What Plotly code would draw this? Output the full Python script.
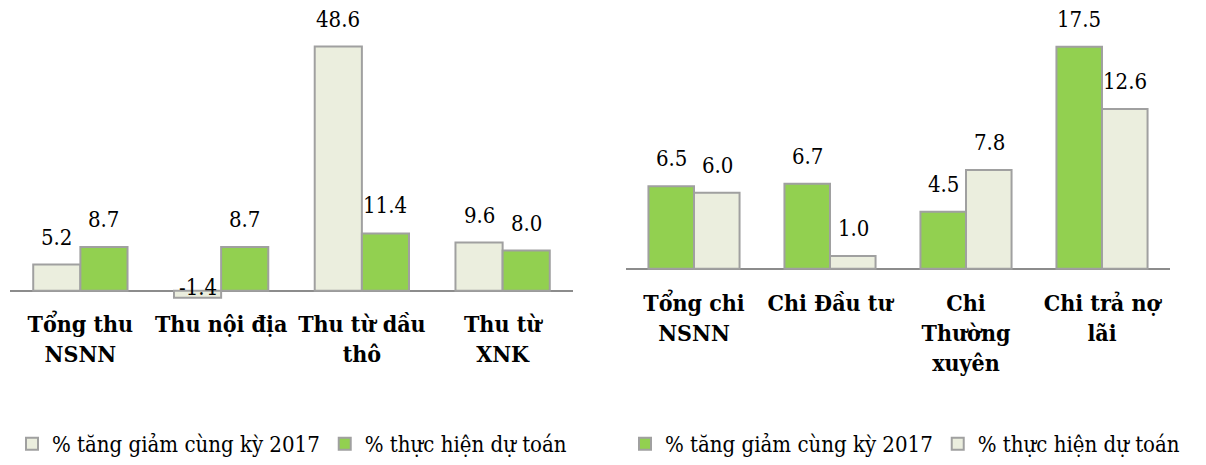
import plotly.graph_objects as go

# ---- data ----
thu_categories = ["Tổng thu<br>NSNN", "Thu nội địa", "Thu từ dầu<br>thô", "Thu từ<br>XNK"]
thu_tang_giam = [5.2, -1.4, 48.6, 9.6]
thu_thuc_hien = [8.7, 8.7, 11.4, 8.0]

chi_categories = ["Tổng chi<br>NSNN", "Chi Đầu tư", "Chi<br>Thường<br>xuyên", "Chi trả nợ<br>lãi"]
chi_tang_giam = [6.5, 6.7, 4.5, 17.5]
chi_thuc_hien = [6.0, 1.0, 7.8, 12.6]

series_names = ["% tăng giảm cùng kỳ 2017", "% thực hiện dự toán"]

LIGHT = "#EBEEDE"
GREEN = "#92D050"
EDGE = "#A0A0A0"
FONT = "DejaVu Serif Condensed, DejaVu Serif"

fig = go.Figure()

def add_bar(x, y, name, color, xa, ya, legend):
    fig.add_trace(go.Bar(
        x=x, y=y, name=name, xaxis=xa, yaxis=ya, legend=legend,
        marker=dict(color=color, line=dict(color=EDGE, width=2)),
        text=[f"{v:.1f}" for v in y], textposition="none",
        hoverinfo="x+y",
    ))

add_bar(thu_categories, thu_tang_giam, series_names[0], LIGHT, "x", "y", "legend")
add_bar(thu_categories, thu_thuc_hien, series_names[1], GREEN, "x", "y", "legend")
add_bar(chi_categories, chi_tang_giam, series_names[0], GREEN, "x2", "y2", "legend2")
add_bar(chi_categories, chi_thuc_hien, series_names[1], LIGHT, "x2", "y2", "legend2")

# value labels via annotations placed on data coordinates
annotations = []
def add_labels(cats, vals, xref, yref, shift):
    for c, v in zip(cats, vals):
        annotations.append(dict(
            x=c, y=max(v, 0), xref=xref, yref=yref, xshift=shift,
            yshift=13 if v >= 0 else -11, yanchor="bottom", showarrow=False,
            text=f"{v:.1f}", font=dict(family=FONT, size=22, color="#000"),
        ))

add_labels(thu_categories, thu_tang_giam, "x", "y", -23.5)
add_labels(thu_categories, thu_thuc_hien, "x", "y", 23.5)
add_labels(chi_categories, chi_tang_giam, "x2", "y2", -23)
add_labels(chi_categories, chi_thuc_hien, "x2", "y2", 23)

W, H = 1206, 465

def px_x(a, b):
    return [a / W, b / W]

TICKFONT = dict(family=FONT, size=23, color="#000", weight="bold")
LEGFONT = dict(family=FONT, size=22, color="#000")

fig.update_layout(
    width=W, height=H,
    margin=dict(l=0, r=0, t=0, b=0),
    paper_bgcolor="white", plot_bgcolor="white",
    barmode="group", bargap=0.33, bargroupgap=0,
    showlegend=True,
    font=dict(family=FONT, size=17, color="#000"),
    annotations=annotations,
    xaxis=dict(domain=px_x(10, 573), showgrid=False, showline=False, ticks="",
               tickfont=TICKFONT, ticklabelstandoff=2, anchor="y"),
    yaxis=dict(domain=[(H - 307) / H, (H - 3) / H], range=[-2.97, 57.26],
               showgrid=False, showticklabels=False, zeroline=True,
               zerolinecolor="#8C8C8C", zerolinewidth=2, anchor="x"),
    xaxis2=dict(domain=px_x(626, 1170), showgrid=False, showline=False, ticks="",
                tickfont=TICKFONT, ticklabelstandoff=2, anchor="y2"),
    yaxis2=dict(domain=[(H - 286) / H, (H - 3) / H], range=[-1.26, 20.96],
                showgrid=False, showticklabels=False, zeroline=True,
                zerolinecolor="#8C8C8C", zerolinewidth=2, anchor="x2"),
    legend=dict(orientation="h", x=292 / W, y=1 - 446 / H, xanchor="center", yanchor="middle",
                font=LEGFONT, traceorder="normal", itemwidth=30, bgcolor="rgba(0,0,0,0)"),
    legend2=dict(orientation="h", x=905 / W, y=1 - 446 / H, xanchor="center", yanchor="middle",
                 font=LEGFONT, traceorder="normal", itemwidth=30, bgcolor="rgba(0,0,0,0)"),
)

fig.write_html("out.html")
